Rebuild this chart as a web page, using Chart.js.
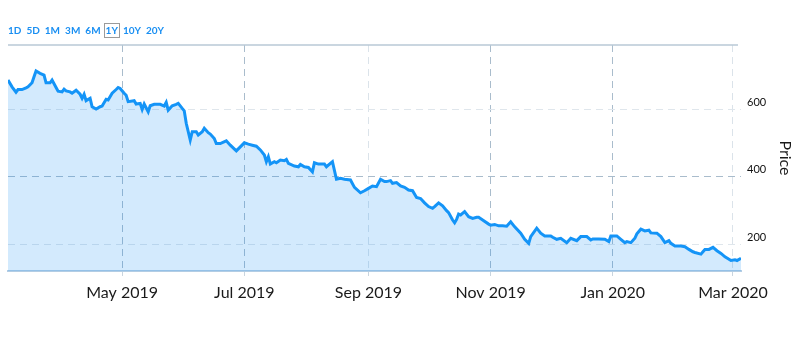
<!DOCTYPE html>
<html>
<head>
<meta charset="utf-8">
<script src="https://cdn.jsdelivr.net/npm/chart.js@4"></script>
<style>
    body { margin: 0; background: #fff; }
    #wrap { position: relative; width: 800px; height: 339px; }
    #ranges { position: absolute; left: 8px; top: 24px; height: 14px; display: flex; gap: 5px;
              font: 700 10px Lato, sans-serif; color: #1a8ff2; line-height: 13px; }
    #ranges span { padding: 0; }
    #ranges span.active { border: 1px solid #9a9a9a; padding: 0 1px; margin: -1px -2px 0 -2px; }
    canvas { position: absolute; left: 0; top: 0; }
</style>
</head>
<body>
<div id="wrap">
    <canvas id="priceChart" width="800" height="339"></canvas>
    <div id="ranges"></div>
</div>
<script>
// --- Data ---
const dates = [
    '2019-03-05','2019-03-07','2019-03-09','2019-03-10','2019-03-12','2019-03-14','2019-03-15','2019-03-17',
    '2019-03-18','2019-03-19','2019-03-21','2019-03-23','2019-03-24','2019-03-26','2019-03-27','2019-03-29',
    '2019-03-30','2019-04-01','2019-04-02','2019-04-03','2019-04-05','2019-04-06','2019-04-08','2019-04-10',
    '2019-04-11','2019-04-12','2019-04-13','2019-04-15','2019-04-16','2019-04-18','2019-04-20','2019-04-21',
    '2019-04-23','2019-04-24','2019-04-26','2019-04-28','2019-04-29','2019-04-30','2019-05-02','2019-05-03',
    '2019-05-04','2019-05-07','2019-05-08','2019-05-10','2019-05-11','2019-05-12','2019-05-14','2019-05-15',
    '2019-05-17','2019-05-20','2019-05-22','2019-05-23','2019-05-24','2019-05-26','2019-05-28','2019-05-29',
    '2019-05-31','2019-06-01','2019-06-02','2019-06-04','2019-06-05','2019-06-07','2019-06-08','2019-06-10',
    '2019-06-11','2019-06-13','2019-06-14','2019-06-16','2019-06-17','2019-06-19','2019-06-22','2019-06-24',
    '2019-06-27','2019-06-29','2019-07-01','2019-07-03','2019-07-05','2019-07-07','2019-07-09','2019-07-11',
    '2019-07-12','2019-07-13','2019-07-14','2019-07-16','2019-07-17','2019-07-19','2019-07-21','2019-07-22',
    '2019-07-23','2019-07-26','2019-07-28','2019-07-29','2019-07-31','2019-08-02','2019-08-04','2019-08-05',
    '2019-08-07','2019-08-10','2019-08-11','2019-08-14','2019-08-16','2019-08-18','2019-08-20','2019-08-23',
    '2019-08-25','2019-08-28','2019-08-30','2019-09-01','2019-09-03','2019-09-05','2019-09-07','2019-09-09',
    '2019-09-10','2019-09-12','2019-09-13','2019-09-15','2019-09-17','2019-09-19','2019-09-21','2019-09-23',
    '2019-09-25','2019-09-27','2019-09-29','2019-10-01','2019-10-03','2019-10-04','2019-10-06','2019-10-08',
    '2019-10-10','2019-10-11','2019-10-13','2019-10-14','2019-10-15','2019-10-16','2019-10-17','2019-10-19',
    '2019-10-21','2019-10-23','2019-10-25','2019-10-26','2019-10-28','2019-10-31','2019-11-01','2019-11-03',
    '2019-11-05','2019-11-07','2019-11-09','2019-11-11','2019-11-13','2019-11-16','2019-11-18','2019-11-20',
    '2019-11-21','2019-11-24','2019-11-26','2019-11-28','2019-12-01','2019-12-02','2019-12-04','2019-12-06',
    '2019-12-09','2019-12-11','2019-12-14','2019-12-16','2019-12-19','2019-12-21','2019-12-22','2019-12-25',
    '2019-12-28','2019-12-30','2019-12-31','2020-01-03','2020-01-05','2020-01-07','2020-01-08','2020-01-10',
    '2020-01-12','2020-01-13','2020-01-15','2020-01-17','2020-01-19','2020-01-20','2020-01-23','2020-01-25',
    '2020-01-27','2020-01-29','2020-01-30','2020-02-01','2020-02-04','2020-02-06','2020-02-08','2020-02-10',
    '2020-02-11','2020-02-14','2020-02-15','2020-02-16','2020-02-18','2020-02-20','2020-02-22','2020-02-24',
    '2020-02-26','2020-02-28','2020-02-29','2020-03-02','2020-03-03','2020-03-05'
];
const prices = [
    686, 666, 650, 658, 658, 663, 666, 678,
    696, 713, 706, 701, 678, 678, 686, 664,
    653, 651, 659, 654, 651, 647, 656, 644,
    632, 644, 625, 632, 607, 600, 607, 609,
    629, 627, 647, 658, 664, 661, 647, 641,
    622, 625, 615, 617, 599, 615, 592, 610,
    614, 614, 609, 620, 597, 610, 614, 617,
    602, 595, 558, 508, 533, 533, 523, 533,
    543, 530, 526, 513, 498, 498, 506, 493,
    476, 488, 500, 496, 493, 490, 479, 464,
    444, 459, 437, 444, 441, 449, 447, 451,
    439, 431, 429, 436, 429, 427, 414, 441,
    437, 437, 429, 444, 392, 395, 392, 390,
    368, 352, 358, 365, 372, 370, 392, 385,
    385, 388, 380, 382, 372, 368, 360, 358,
    338, 335, 322, 311, 306, 311, 322, 313,
    299, 293, 271, 263, 273, 289, 286, 296,
    281, 276, 279, 279, 271, 259, 256, 258,
    254, 254, 253, 266, 251, 232, 214, 202,
    222, 247, 232, 224, 224, 220, 214, 217,
    204, 217, 210, 222, 222, 212, 215, 215,
    214, 207, 224, 224, 214, 204, 207, 204,
    217, 230, 244, 239, 241, 233, 232, 222,
    204, 210, 202, 194, 194, 192, 184, 177,
    175, 170, 177, 184, 184, 190, 180, 172,
    162, 155, 151, 153, 151, 158
];
const xTickDates = ['2019-05-01', '2019-07-01', '2019-09-01', '2019-11-01', '2020-01-01', '2020-03-01'];
const xTickLabels = ['May 2019', 'Jul 2019', 'Sep 2019', 'Nov 2019', 'Jan 2020', 'Mar 2020'];
const yTicks = [200, 400, 600];
const ranges = ['1D', '5D', '1M', '3M', '6M', '1Y', '10Y', '20Y'];
const activeRange = '1Y';

function toTime(s) {
    const p = s.split('-');
    return Date.UTC(+p[0], +p[1] - 1, +p[2]);
}

// --- Range buttons ---
const rangeBox = document.getElementById('ranges');
ranges.forEach(r => {
    const el = document.createElement('span');
    el.textContent = r;
    if (r === activeRange) el.className = 'active';
    rangeBox.appendChild(el);
});

// --- Chart ---
const points = dates.map((d, i) => ({ x: toTime(d), y: prices[i] }));
const tickTimes = xTickDates.map(toTime);

const topLine = {
    id: 'topLine',
    beforeDatasetsDraw(chart) {
        const { ctx, chartArea } = chart;
        ctx.save();
        ctx.strokeStyle = '#b9c8d6';
        ctx.lineWidth = 1.5;
        ctx.beginPath();
        ctx.moveTo(chartArea.left, chartArea.top);
        ctx.lineTo(chartArea.right - 3, chartArea.top);
        ctx.stroke();
        ctx.restore();
    }
};

new Chart(document.getElementById('priceChart').getContext('2d'), {
    type: 'line',
    data: {
        datasets: [{
            label: 'Price',
            data: points,
            borderColor: '#1494f7',
            backgroundColor: 'rgba(20, 145, 245, 0.19)',
            borderWidth: 3,
            fill: 'start',
            pointRadius: 0,
            tension: 0
        }]
    },
    options: {
        responsive: false,
        animation: false,
        layout: { padding: { left: 8, top: 45, right: 0, bottom: 0 } },
        plugins: { legend: { display: false }, tooltip: { enabled: false } },
        scales: {
            x: {
                type: 'linear',
                min: toTime('2019-03-05'),
                max: toTime('2020-03-05'),
                afterBuildTicks: scale => { scale.ticks = tickTimes.map(v => ({ value: v })); },
                afterFit: scale => { scale.height = 68; },
                ticks: {
                    callback: (v, i) => xTickLabels[i],
                    color: '#1a1a1a',
                    font: { family: 'Lato', size: 16 },
                    padding: 7,
                    maxRotation: 0,
                    autoSkip: false
                },
                grid: {
                    color: ctx => (ctx.index === 2 || ctx.index === 5) ? '#dbe3ea' : '#a9bccc',
                    lineWidth: 1,
                    tickLength: 5,
                    tickColor: '#c9d5df',
                    tickBorderDash: []
                },
                border: { display: true, color: '#b3cde4', width: 2, dash: [7, 5] }
            },
            y: {
                position: 'right',
                min: 120,
                max: 790,
                afterBuildTicks: scale => { scale.ticks = yTicks.map(v => ({ value: v })); },
                afterFit: scale => { scale.width = 59; },
                ticks: {
                    color: '#111',
                    font: { family: 'Lato', size: 11 },
                    padding: 6,
                    labelOffset: -7
                },
                grid: {
                    color: ctx => (ctx.tick && ctx.tick.value === 400) ? '#a9bccc' : '#dfe6ec',
                    lineWidth: 1,
                    drawTicks: false
                },
                border: { display: false, dash: [7, 5] },
                title: {
                    display: true,
                    text: 'Price',
                    color: '#1a1a1a',
                    font: { family: 'Lato', size: 16 },
                    padding: { top: 5, bottom: 0 }
                }
            }
        }
    },
    plugins: [topLine]
});
</script>
</body>
</html>
